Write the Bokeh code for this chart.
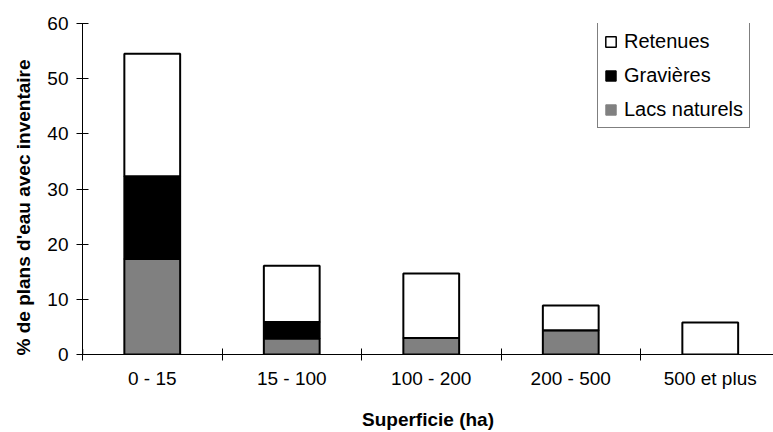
from bokeh.plotting import figure
from bokeh.models import Range1d, FixedTicker, Legend, LegendItem
from bokeh.embed import file_html
from bokeh.resources import INLINE

categories = ["0 - 15", "15 - 100", "100 - 200", "200 - 500", "500 et plus"]
lacs_naturels = [17.3, 2.9, 3.0, 4.4, 0.0]
gravieres = [15.0, 3.0, 0.0, 0.0, 0.0]
retenues = [22.2, 10.2, 11.7, 4.5, 5.8]
y_ticks = [0, 10, 20, 30, 40, 50, 60]

FONT = "Liberation Sans"
x = [i + 0.5 for i in range(len(categories))]
b1 = [0.0] * len(categories)
t1 = [b + v for b, v in zip(b1, lacs_naturels)]
t2 = [b + v for b, v in zip(t1, gravieres)]
t3 = [b + v for b, v in zip(t2, retenues)]

p = figure(width=773, height=432, output_backend="svg", toolbar_location=None,
           x_range=Range1d(0, 691 / 139.5), y_range=Range1d(0, 60),
           min_border_left=82, min_border_right=0, min_border_top=23, min_border_bottom=78)
p.outline_line_color = None
p.xgrid.visible = False
p.ygrid.visible = False
p.background_fill_color = "white"

W = 0.4
p.vbar(x=x, bottom=b1, top=t1, width=W, fill_color="#808080", line_color="black", line_width=2)
p.vbar(x=x, bottom=t1, top=t2, width=W, fill_color="black", line_color="black", line_width=2)
p.vbar(x=x, bottom=t2, top=t3, width=W, fill_color="white", line_color="black", line_width=2)

# legend swatches (one point placed outside the visible range)
r_ret = p.vbar(x=[-10], top=[1], width=W, fill_color="white", line_color="black", line_width=1.5)
r_grav = p.vbar(x=[-10], top=[1], width=W, fill_color="black", line_color="black", line_width=1)
r_lacs = p.vbar(x=[-10], top=[1], width=W, fill_color="#808080", line_color="#808080", line_width=1)

legend = Legend(items=[LegendItem(label="Retenues", renderers=[r_ret]),
                       LegendItem(label="Gravières", renderers=[r_grav]),
                       LegendItem(label="Lacs naturels", renderers=[r_lacs])],
                location=(515, 226))
legend.border_line_color = "black"
legend.border_line_width = 1
legend.background_fill_alpha = 1
legend.label_text_font = FONT
legend.label_text_font_size = "20px"
legend.label_text_color = "black"
legend.glyph_width = 13
legend.glyph_height = 13
legend.label_height = 24
legend.spacing = 10
legend.padding = 6
legend.margin = 0
legend.label_standoff = 7
p.add_layout(legend, "center")

# x axis
xa = p.xaxis[0]
xa.ticker = FixedTicker(ticks=x, minor_ticks=[0, 1, 2, 3, 4])
xa.major_label_overrides = {v: c for v, c in zip(x, categories)}
xa.major_tick_in = 0
xa.major_tick_out = 0
xa.minor_tick_in = 6
xa.minor_tick_out = 6
xa.minor_tick_line_color = "black"
xa.axis_line_color = "black"
xa.major_label_text_font = FONT
xa.major_label_text_font_size = "19px"
xa.major_label_text_color = "black"
xa.major_label_standoff = 7
xa.axis_label = "Superficie (ha)"
xa.axis_label_text_font = FONT
xa.axis_label_text_font_size = "19px"
xa.axis_label_text_font_style = "bold"
xa.axis_label_text_color = "black"
xa.axis_label_standoff = 17

ya = p.yaxis[0]
ya.ticker = FixedTicker(ticks=y_ticks, minor_ticks=[])
ya.major_tick_in = 6
ya.major_tick_out = 6
ya.major_tick_line_color = "black"
ya.axis_line_color = "black"
ya.major_label_text_font = FONT
ya.major_label_text_font_size = "19px"
ya.major_label_text_color = "black"
ya.major_label_standoff = 8
ya.axis_label = "% de plans d'eau avec inventaire" + "\u00a0" * 7
ya.axis_label_text_font = FONT
ya.axis_label_text_font_size = "19px"
ya.axis_label_text_font_style = "bold"
ya.axis_label_text_color = "black"
ya.axis_label_standoff = 10

open("out.html", "w").write(file_html(p, INLINE))
